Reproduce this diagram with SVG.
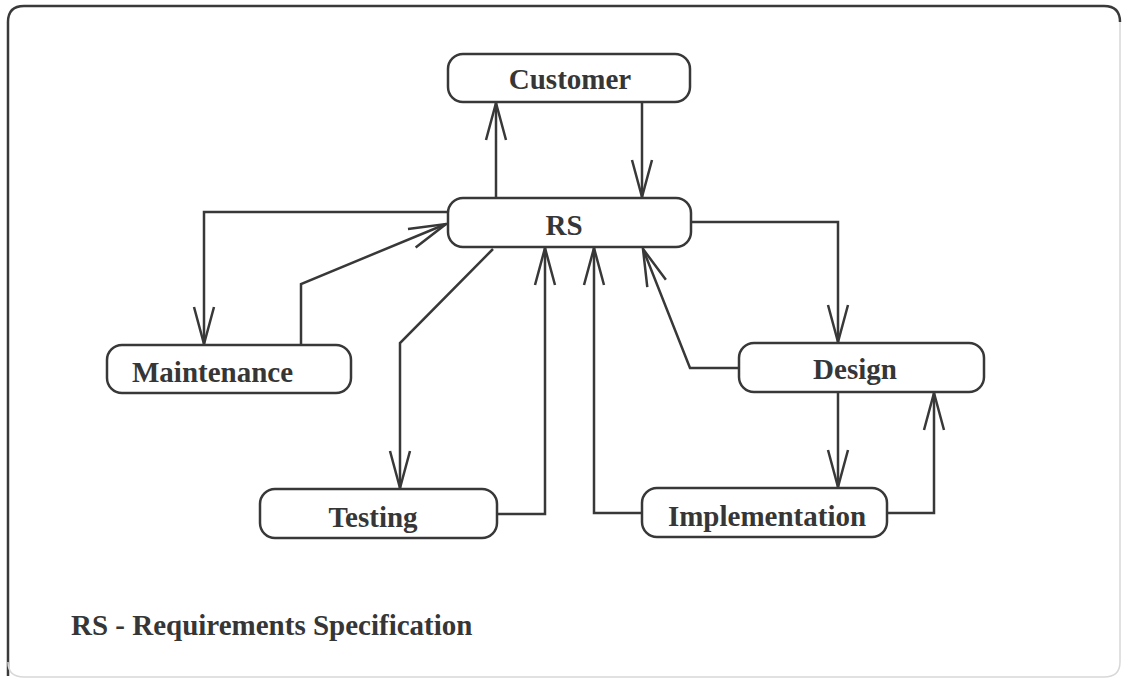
<svg xmlns="http://www.w3.org/2000/svg" width="1122" height="678" viewBox="0 0 1122 678">
  <style>
    .box { fill: #ffffff; stroke: #383838; stroke-width: 2.5; }
    .lbl { font-family: "Liberation Serif", "Times New Roman", serif; font-weight: bold; font-size: 29px; fill: #363636; }
    .edge { fill: none; stroke: #383838; stroke-width: 2.5; stroke-linejoin: miter; }
  </style>
  <defs>
    <marker id="open" markerUnits="userSpaceOnUse" markerWidth="42" markerHeight="26" refX="39" refY="13" orient="auto" viewBox="0 0 42 26">
      <path d="M2,3 L39,13 L2,23" fill="none" stroke="#383838" stroke-width="2.5"/>
    </marker>
  </defs>

  <rect width="1122" height="678" fill="#ffffff"/>

  <!-- frame -->
  <path d="M8,676 L8,22 Q8,6 24,6 L1104,6 Q1120,6 1120,22" fill="none" stroke="#3a3a3a" stroke-width="2.5"/>
  <path d="M1120,22 L1120,662 Q1120,677 1104,677 L24,677 Q8,677 8,662" fill="none" stroke="#d8d8d8" stroke-width="1.5"/>

  <g id="connectors">
    <!-- RS to Customer -->
    <path class="edge" d="M496,198 L496,103" marker-end="url(#open)"/>
    <!-- Customer to RS -->
    <path class="edge" d="M642,102 L642,197" marker-end="url(#open)"/>
    <!-- RS to Maintenance -->
    <path class="edge" d="M448,212 L204,212 L204,344" marker-end="url(#open)"/>
    <!-- Maintenance to RS -->
    <path class="edge" d="M301,345 L301,284 L446,224" marker-end="url(#open)"/>
    <!-- RS to Testing -->
    <path class="edge" d="M493,249 L400,343 L400,488" marker-end="url(#open)"/>
    <!-- Testing to RS -->
    <path class="edge" d="M497,514 L545,514 L545,248" marker-end="url(#open)"/>
    <!-- Implementation to RS -->
    <path class="edge" d="M642,513 L594,513 L594,248" marker-end="url(#open)"/>
    <!-- Design to RS -->
    <path class="edge" d="M739,368 L690,368 L643,249" marker-end="url(#open)"/>
    <!-- RS to Design -->
    <path class="edge" d="M691,222 L838,222 L838,342" marker-end="url(#open)"/>
    <!-- Design to Implementation -->
    <path class="edge" d="M838,392 L838,487" marker-end="url(#open)"/>
    <!-- Implementation to Design -->
    <path class="edge" d="M887,513 L934,513 L934,393" marker-end="url(#open)"/>
  </g>

  <g id="customer">
    <rect class="box" x="448" y="54" width="242" height="48" rx="15"/>
    <text class="lbl" x="570" y="89" text-anchor="middle">Customer</text>
  </g>

  <g id="rs">
    <rect class="box" x="448" y="198" width="243" height="49" rx="15"/>
    <text class="lbl" x="564" y="235" text-anchor="middle">RS</text>
  </g>

  <g id="maintenance">
    <rect class="box" x="107" y="345" width="244" height="48" rx="15"/>
    <text class="lbl" x="132" y="382">Maintenance</text>
  </g>

  <g id="design">
    <rect class="box" x="739" y="343" width="245" height="49" rx="15"/>
    <text class="lbl" x="855" y="379" text-anchor="middle">Design</text>
  </g>

  <g id="testing">
    <rect class="box" x="260" y="489" width="237" height="49" rx="15"/>
    <text class="lbl" x="373" y="527" text-anchor="middle">Testing</text>
  </g>

  <g id="implementation">
    <rect class="box" x="642" y="488" width="245" height="49" rx="15"/>
    <text class="lbl" x="767" y="526" text-anchor="middle">Implementation</text>
  </g>

  <text class="lbl" x="71" y="635">RS - Requirements Specification</text>
</svg>
